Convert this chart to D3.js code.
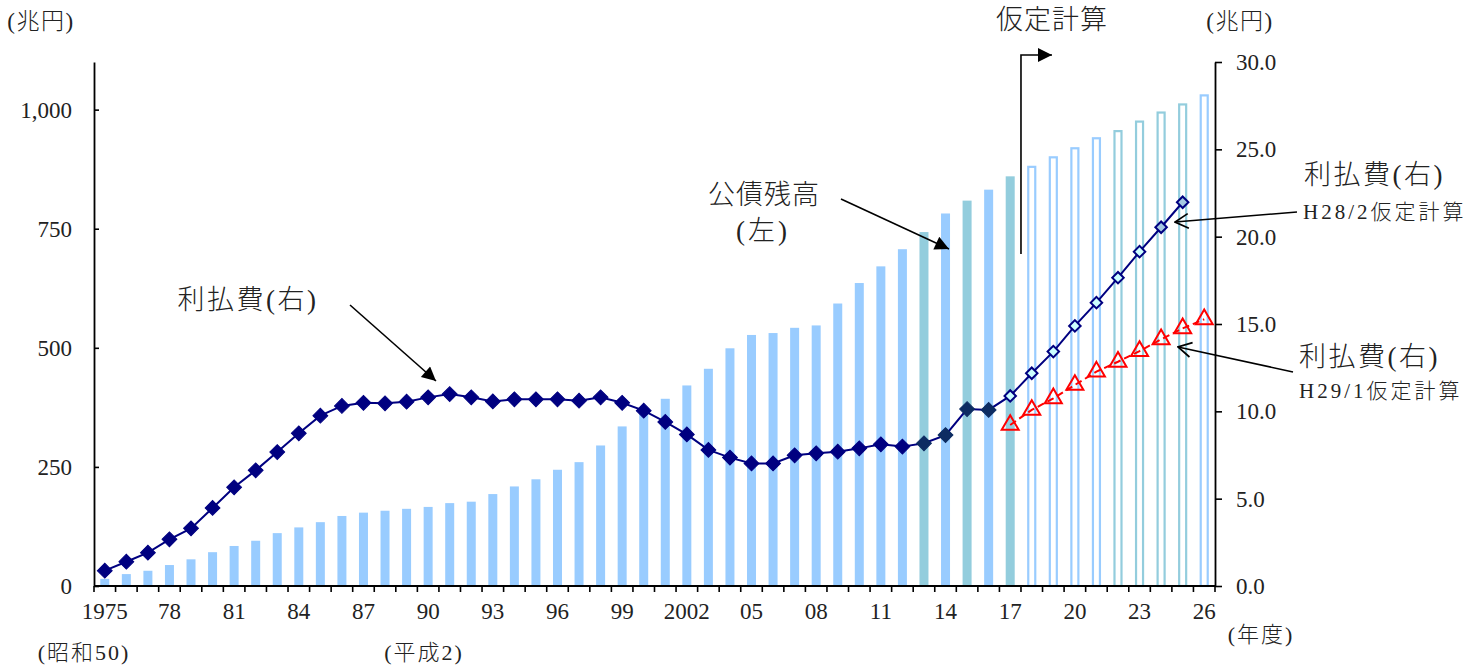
<!DOCTYPE html>
<html lang="ja">
<head>
<meta charset="utf-8">
<script src="https://cdn.jsdelivr.net/npm/d3@7"></script>
<style>
  html, body { margin: 0; padding: 0; background: #fff; }
  svg { display: block; }
  text { font-family: "Liberation Serif", "Noto Sans CJK JP", serif; fill: #222; font-weight: 300; }
</style>
</head>
<body>
<svg id="chart" width="1473" height="665"></svg>
<script>
// 年度
const years = [1975, 1976, 1977, 1978, 1979, 1980, 1981, 1982, 1983, 1984,
  1985, 1986, 1987, 1988, 1989, 1990, 1991, 1992, 1993, 1994,
  1995, 1996, 1997, 1998, 1999, 2000, 2001, 2002, 2003, 2004,
  2005, 2006, 2007, 2008, 2009, 2010, 2011, 2012, 2013, 2014,
  2015, 2016, 2017, 2018, 2019, 2020, 2021, 2022, 2023, 2024,
  2025, 2026];

// 公債残高（兆円, 左軸） 1975–2017 実績
const debtYears = [1975, 1976, 1977, 1978, 1979, 1980, 1981, 1982, 1983, 1984,
  1985, 1986, 1987, 1988, 1989, 1990, 1991, 1992, 1993, 1994,
  1995, 1996, 1997, 1998, 1999, 2000, 2001, 2002, 2003, 2004,
  2005, 2006, 2007, 2008, 2009, 2010, 2011, 2012, 2013, 2014,
  2015, 2016, 2017];
const debt = [15, 25, 32, 44, 56, 71, 84, 95, 111, 123,
  134, 147, 154, 158, 162, 166, 174, 177, 193, 209,
  224, 244, 260, 295, 335, 368, 393, 421, 456, 499,
  527, 531, 542, 547, 593, 636, 671, 707, 743, 782,
  809, 832, 860];

// 公債残高 仮定計算 2018–2026
const debtProjYears = [2018, 2019, 2020, 2021, 2022, 2023, 2024, 2025, 2026];
const debtProj = [882, 902, 921, 942, 957, 977, 996, 1013, 1032];

// 利払費（兆円, 右軸） 1975–2016 実績
const interestYears = debtYears.slice(0, 42);
const interest = [0.88, 1.39, 1.91, 2.67, 3.30, 4.47, 5.65, 6.62, 7.67, 8.74,
  9.75, 10.31, 10.49, 10.46, 10.55, 10.80, 10.99, 10.80, 10.57, 10.69,
  10.69, 10.69, 10.61, 10.80, 10.49, 10.04, 9.39, 8.68, 7.79, 7.35,
  7.02, 7.02, 7.48, 7.60, 7.69, 7.88, 8.11, 7.98, 8.17, 8.64,
  10.13, 10.08];

// 利払費 H28/2仮定計算 2017–2025
const h28Years = [2017, 2018, 2019, 2020, 2021, 2022, 2023, 2024, 2025];
const h28 = [10.88, 12.18, 13.42, 14.89, 16.22, 17.65, 19.14, 20.54, 21.97];

// 利払費 H29/1仮定計算 2017–2026
const h29Years = [2017, 2018, 2019, 2020, 2021, 2022, 2023, 2024, 2025, 2026];
const h29 = [9.22, 10.08, 10.74, 11.51, 12.27, 12.84, 13.45, 14.12, 14.75, 15.27];

// 目盛
const leftTicks = [0, 250, 500, 750, 1000];
const rightTicks = [0, 5, 10, 15, 20, 25, 30];
const xLabelYears = [1975, 1978, 1981, 1984, 1987, 1990, 1993, 1996, 1999,
  2002, 2005, 2008, 2011, 2014, 2017, 2020, 2023, 2026];
const xLabels = ["1975", "78", "81", "84", "87", "90", "93", "96", "99",
  "2002", "05", "08", "11", "14", "17", "20", "23", "26"];

// ---- 描画 ----
const svg = d3.select("#chart");
const plotLeft = 94, plotRight = 1215, plotTop = 62, plotBottom = 586;

const x = d3.scaleBand().domain(years).range([plotLeft, plotRight]).padding(0);
const yL = d3.scaleLinear().domain([0, 1100]).range([plotBottom, plotTop]);
const yR = d3.scaleLinear().domain([0, 30]).range([plotBottom, plotTop]);
const cx = d => x(d) + x.bandwidth() / 2;
const barW = 9;

const BLUE = "#99ccff", TEAL = "#93cddd";
const tealYears = new Set([2013, 2015, 2017, 2022, 2023, 2024, 2025]);

// 矢印の頭
const defs = svg.append("defs");
defs.append("marker").attr("id", "solidHead")
  .attr("viewBox", "0 0 10 10").attr("refX", 10).attr("refY", 5)
  .attr("markerUnits", "userSpaceOnUse").attr("markerWidth", 17).attr("markerHeight", 14)
  .attr("orient", "auto")
  .append("path").attr("d", "M0,0 L10,5 L0,10 Z").attr("fill", "#000");
defs.append("marker").attr("id", "openHead")
  .attr("viewBox", "0 0 12 12").attr("refX", 11).attr("refY", 6)
  .attr("markerUnits", "userSpaceOnUse").attr("markerWidth", 16).attr("markerHeight", 18)
  .attr("orient", "auto")
  .append("path").attr("d", "M1,0.5 L11,6 L1,11.5").attr("fill", "none")
  .attr("stroke", "#000").attr("stroke-width", 1.3);

// 実績の棒
svg.append("g").selectAll("rect")
  .data(debtYears.map((yr, i) => ({ yr, v: debt[i] })))
  .join("rect")
  .attr("x", d => cx(d.yr) - barW / 2)
  .attr("y", d => yL(d.v))
  .attr("width", barW)
  .attr("height", d => yL(0) - yL(d.v))
  .attr("fill", d => tealYears.has(d.yr) ? TEAL : BLUE);

// 仮定計算の棒（枠のみ）
svg.append("g").selectAll("rect")
  .data(debtProjYears.map((yr, i) => ({ yr, v: debtProj[i] })))
  .join("rect")
  .attr("x", d => cx(d.yr) - barW / 2 + 1)
  .attr("y", d => yL(d.v) + 1)
  .attr("width", barW - 2)
  .attr("height", d => yL(0) - yL(d.v) - 1)
  .attr("fill", "#fff")
  .attr("stroke", d => tealYears.has(d.yr) ? TEAL : BLUE)
  .attr("stroke-width", 2.2);

// 軸
const axisL = svg.append("g").attr("transform", `translate(${plotLeft},0)`)
  .call(d3.axisLeft(yL).tickValues(leftTicks).tickSize(-5).tickSizeOuter(0)
    .tickPadding(22).tickFormat(d3.format(",")));
const axisR = svg.append("g").attr("transform", `translate(${plotRight},0)`)
  .call(d3.axisRight(yR).tickValues(rightTicks).tickSize(7).tickSizeOuter(0)
    .tickPadding(14).tickFormat(d3.format(".1f")));
const axisB = svg.append("g").attr("transform", `translate(0,${plotBottom})`)
  .call(d3.axisBottom(x).tickValues(xLabelYears).tickSize(0).tickPadding(17)
    .tickFormat(d => xLabels[xLabelYears.indexOf(d)]));
// 区切り目盛
axisB.append("g").selectAll("line")
  .data(years.concat(["end"]))
  .join("line")
  .attr("x1", d => d === "end" ? plotRight : x(d))
  .attr("x2", d => d === "end" ? plotRight : x(d))
  .attr("y1", 0).attr("y2", 6)
  .attr("stroke", "#000").attr("stroke-width", 1.6);

[axisL, axisR, axisB].forEach(g => {
  g.selectAll(".domain").attr("stroke", "#000").attr("stroke-width", 1.8);
  g.selectAll(".tick line").attr("stroke", "#000").attr("stroke-width", 1.6);
  g.selectAll("text").attr("font-size", 23).attr("fill", "#222")
    .attr("font-family", "'Liberation Serif', serif");
});
axisB.select(".domain").attr("d", `M${plotLeft},0H${plotRight}`);

// 利払費 実績 + H28/2仮定計算
const lineR = d3.line().x(d => cx(d.yr)).y(d => yR(d.v));
const actualPts = interestYears.map((yr, i) => ({ yr, v: interest[i] }));
const h28Pts = h28Years.map((yr, i) => ({ yr, v: h28[i] }));
const h29Pts = h29Years.map((yr, i) => ({ yr, v: h29[i] }));

svg.append("path").datum(actualPts.concat(h28Pts))
  .attr("d", lineR).attr("fill", "none")
  .attr("stroke", "#000080").attr("stroke-width", 2);

svg.append("path").datum(h29Pts)
  .attr("d", lineR).attr("fill", "none")
  .attr("stroke", "#ff0000").attr("stroke-width", 2)
  .attr("stroke-dasharray", "7,4");

// ひし形（正方形を45°回転）
svg.append("g").selectAll("path")
  .data(actualPts).join("path")
  .attr("transform", d => `translate(${cx(d.yr)},${yR(d.v)}) rotate(45)`)
  .attr("d", d3.symbol().type(d3.symbolSquare).size(110)())
  .attr("fill", d => d.yr >= 2013 ? "#0d2c62" : "#000080")
  .attr("stroke", d => d.yr >= 2013 ? "#0d2c62" : "#000080")
  .attr("stroke-width", 1);

svg.append("g").selectAll("path")
  .data(h28Pts).join("path")
  .attr("transform", d => `translate(${cx(d.yr)},${yR(d.v)}) rotate(45)`)
  .attr("d", d3.symbol().type(d3.symbolSquare).size(66)())
  .attr("fill", d => d.yr >= 2024 ? "#a6c9e2" : "#ccffff")
  .attr("stroke", "#000080").attr("stroke-width", 2);

svg.append("g").selectAll("path")
  .data(h29Pts).join("path")
  .attr("transform", d => `translate(${cx(d.yr)},${yR(d.v)})`)
  .attr("d", d3.symbol().type(d3.symbolTriangle).size(125)())
  .attr("fill", "none")
  .attr("stroke", "#ff0000").attr("stroke-width", 2);

// 注記・単位
function label(txt, xPos, yPos, size, anchor, spacing) {
  svg.append("text").attr("x", xPos).attr("y", yPos)
    .attr("font-size", size).attr("text-anchor", anchor || "start")
    .attr("letter-spacing", spacing || 0)
    .attr("dominant-baseline", "central").text(txt);
}
label("(兆円)", 41, 21, 23, "middle", 1.5);
label("(兆円)", 1240, 21, 23, "middle", 1.5);
label("仮定計算", 1052, 20, 27, "middle", 1);
label("利払費(右)", 248, 300, 27, "middle", 2.5);
label("公債残高", 764, 195, 27, "middle", 1);
label("(左)", 763, 231, 27, "middle", 3);
label("利払費(右)", 1304, 175, 27, "start", 2.5);
label("H28/2仮定計算", 1303, 212, 21, "start", 3);
label("利払費(右)", 1299, 357, 27, "start", 2.5);
label("H29/1仮定計算", 1299, 391, 21, "start", 3);
label("(昭和50)", 84, 652, 22, "middle", 2);
label("(平成2)", 424, 652, 22, "middle", 2);
label("(年度)", 1261, 634, 22, "middle", 2);

// 矢印
function arrow(points, head) {
  svg.append("path").attr("d", d3.line()(points))
    .attr("fill", "none").attr("stroke", "#000").attr("stroke-width", 1.6)
    .attr("marker-end", `url(#${head})`);
}
arrow([[350, 305], [436, 381]], "solidHead");
arrow([[841, 199], [949, 249]], "solidHead");
const xSplit = x(2018);
arrow([[xSplit, 254], [xSplit, 55], [xSplit + 31, 55]], "solidHead");
arrow([[1297, 212], [1175, 222]], "openHead");
arrow([[1293, 372], [1178, 347]], "openHead");
</script>
</body>
</html>
